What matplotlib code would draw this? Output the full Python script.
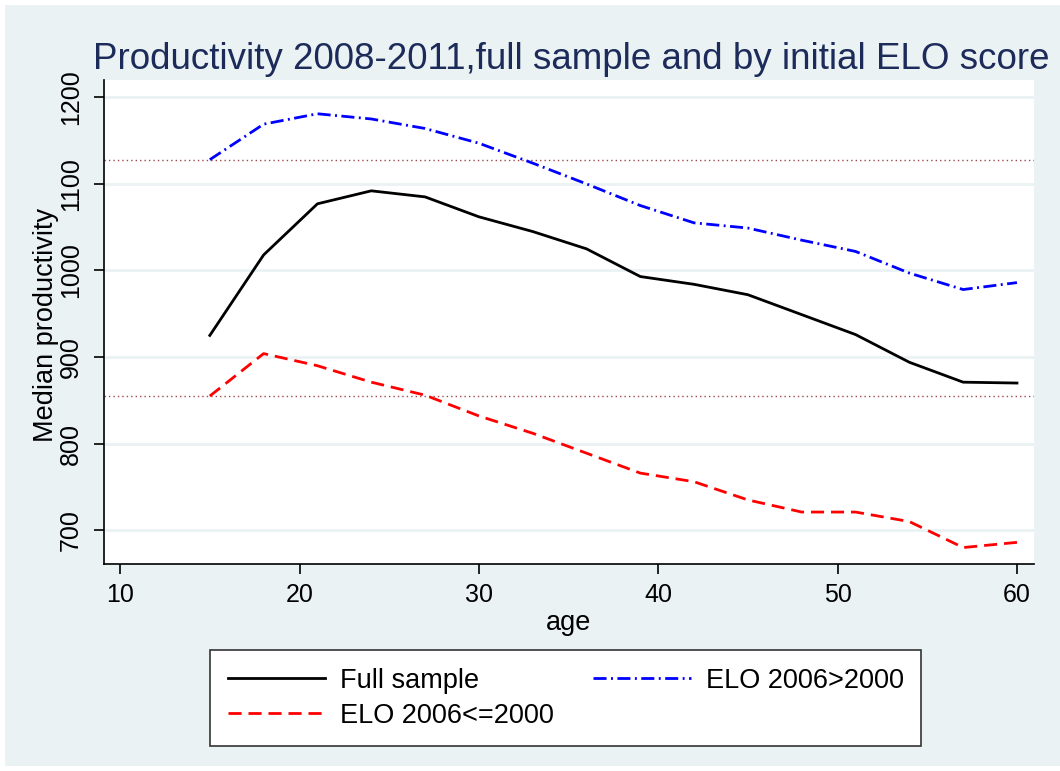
import matplotlib
matplotlib.use("Agg")
import matplotlib.pyplot as plt
from matplotlib.patches import Rectangle

plt.rcParams['font.family'] = ['Liberation Sans', 'DejaVu Sans']

age = [15, 18, 21, 24, 27, 30, 33, 36, 39, 42, 45, 48, 51, 54, 57, 60]
full = [925, 1018, 1077, 1092, 1085, 1062, 1045, 1025, 993, 984, 972, 949, 926, 894, 871, 870]
elo_high = [1128, 1169, 1181, 1175, 1164, 1147, 1124, 1100, 1075, 1055, 1049, 1035, 1022, 997, 978, 986]
elo_low = [855, 904, 890, 871, 856, 832, 812, 789, 766, 756, 735, 721, 721, 710, 680, 686]
ref_lines = [1128, 855]
yticks = [700, 800, 900, 1000, 1100, 1200]
xticks = [10, 20, 30, 40, 50, 60]

bg = '#EAF2F3'
W, H = 1060, 771
fig = plt.figure(figsize=(W / 100, H / 100), dpi=100, facecolor='white')
fig.patches.append(Rectangle((5 / W, 5 / H), 1 - 5 / W, 1 - 10 / H, transform=fig.transFigure,
                             facecolor=bg, edgecolor='none', zorder=-5))

ax = fig.add_axes([104 / W, 1 - 564 / H, 930 / W, 484 / H])
ax.set_facecolor('white')
ax.set_xlim(9.1, 60.95)
ax.set_ylim(661, 1220)

for v in yticks:
    ax.axhline(v, color=bg, lw=2, zorder=1)
for v in ref_lines:
    ax.axhline(v, color='#A04848', lw=1.0, dashes=(1, 2.2), zorder=2)

ax.plot(age, full, color='black', lw=2.0, label='Full sample', zorder=3)
ax.plot(age, elo_low, color='#FF0000', lw=2.0, dashes=(4.7, 2.5), label='ELO 2006<=2000', zorder=3)
ax.plot(age, elo_high, color='#0000FF', lw=2.0, dashes=(4.7, 1.6, 0.7, 1.6), label='ELO 2006>2000', zorder=3)

ax.spines['top'].set_visible(False)
ax.spines['right'].set_visible(False)
ax.spines['left'].set_linewidth(1.2)
ax.spines['bottom'].set_linewidth(1.2)
ax.set_xticks(xticks)
ax.set_yticks(yticks)
ax.tick_params(axis='both', length=7, width=1.2, labelsize=18, color='black')
ax.tick_params(axis='y', labelrotation=90, pad=8)
ax.tick_params(axis='x', pad=7)
for lab in ax.get_yticklabels():
    lab.set_va('center')

fig.text(46 / W, 1 - 325 / H, 'Median productivity', rotation=90, ha='center', va='center', fontsize=19.5)
fig.text(569 / W, 1 - 623 / H, 'age', ha='center', va='center', fontsize=19.5)
fig.text(571 / W, 1 - 69 / H, 'Productivity 2008-2011,full sample and by initial ELO score',
         ha='center', va='baseline', fontsize=26.5, color='#1C2B5A')

leg = fig.legend(loc='upper left', bbox_to_anchor=(210 / W, 1 - 650 / H), borderaxespad=0,
                 ncol=2, fontsize=19.5, frameon=True, fancybox=False, edgecolor='#333333',
                 framealpha=1, handlelength=3.6, handletextpad=0.55, columnspacing=1.45,
                 borderpad=0.65, labelspacing=0.33)
leg.get_frame().set_linewidth(1.2)

fig.savefig('out.png', dpi=100, facecolor=fig.get_facecolor())
